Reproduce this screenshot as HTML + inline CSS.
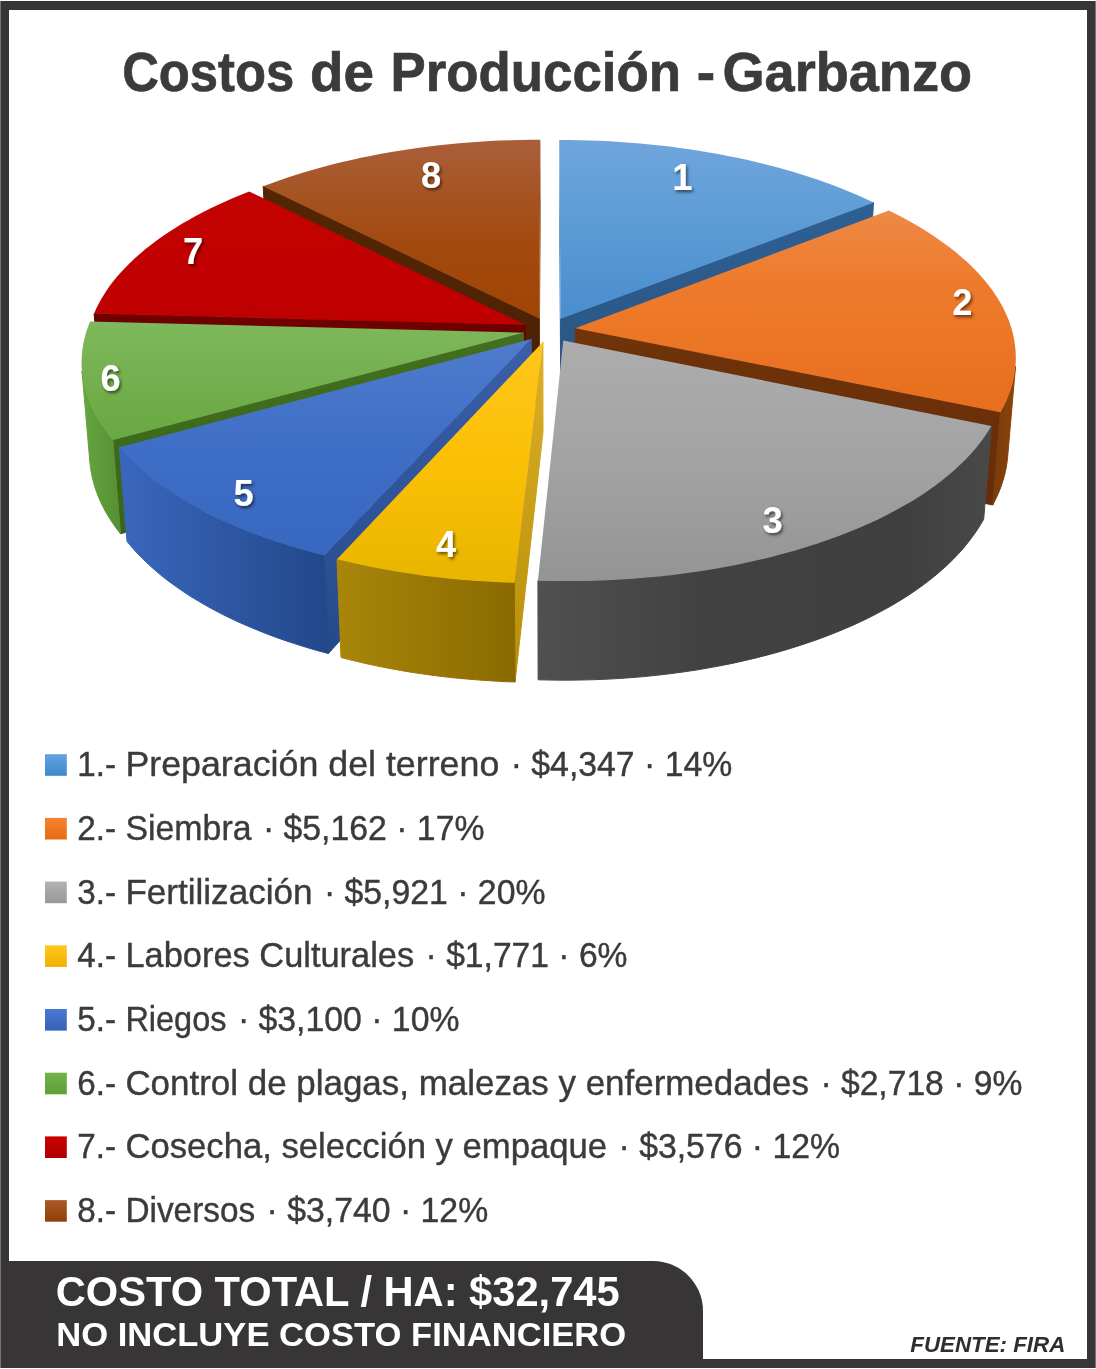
<!DOCTYPE html>
<html lang="es"><head><meta charset="utf-8"><title>Costos de Producción - Garbanzo</title>
<style>
html,body{margin:0;padding:0;background:#fff}
body{width:1096px;height:1369px;overflow:hidden;position:relative;font-family:"Liberation Sans",sans-serif}
svg{position:absolute;left:0;top:0;display:block}
text{font-family:"Liberation Sans",sans-serif}
.t{font-weight:bold}
</style></head><body>
<svg width="1096" height="1369" viewBox="0 0 1096 1369">
<defs>
<filter id="sh" x="-50%" y="-50%" width="200%" height="200%"><feDropShadow dx="1.6" dy="2.2" stdDeviation="1.6" flood-color="#000" flood-opacity="0.55"/></filter>
<linearGradient id="lg0" x1="0" y1="0" x2="0" y2="1"><stop offset="0" stop-color="#61a3e0"/><stop offset="1" stop-color="#3f88cd"/></linearGradient><linearGradient id="lg1" x1="0" y1="0" x2="0" y2="1"><stop offset="0" stop-color="#f6822f"/><stop offset="1" stop-color="#e76c12"/></linearGradient><linearGradient id="lg2" x1="0" y1="0" x2="0" y2="1"><stop offset="0" stop-color="#b2b2b2"/><stop offset="1" stop-color="#989898"/></linearGradient><linearGradient id="lg3" x1="0" y1="0" x2="0" y2="1"><stop offset="0" stop-color="#ffc820"/><stop offset="1" stop-color="#f0b000"/></linearGradient><linearGradient id="lg4" x1="0" y1="0" x2="0" y2="1"><stop offset="0" stop-color="#4a7ad0"/><stop offset="1" stop-color="#3462b8"/></linearGradient><linearGradient id="lg5" x1="0" y1="0" x2="0" y2="1"><stop offset="0" stop-color="#74b24c"/><stop offset="1" stop-color="#619e38"/></linearGradient><linearGradient id="lg6" x1="0" y1="0" x2="0" y2="1"><stop offset="0" stop-color="#cc0000"/><stop offset="1" stop-color="#b00000"/></linearGradient><linearGradient id="lg7" x1="0" y1="0" x2="0" y2="1"><stop offset="0" stop-color="#aa5a2a"/><stop offset="1" stop-color="#913e06"/></linearGradient>
</defs>
<rect x="0" y="0" width="1096" height="1369" fill="#fff"/>
<path fill-rule="evenodd" fill="#373536" d="M0,1H1096V1368H0Z M9,10H1087V1359H9Z"/>
<rect x="0" y="1" width="1" height="1367" fill="#777475"/><rect x="1095" y="1" width="1" height="1367" fill="#777475"/>
<path fill="#373536" d="M9,1261H653A50,50 0 0 1 703,1311V1360H9Z"/>
<text class="t" y="90.8" font-size="55.5" fill="#3b3a3c" stroke="#3b3a3c" stroke-width="0.7"><tspan x="122.2" textLength="172" lengthAdjust="spacingAndGlyphs">Costos</tspan> <tspan x="310" textLength="64" lengthAdjust="spacingAndGlyphs">de</tspan> <tspan x="390.5" textLength="290.5" lengthAdjust="spacingAndGlyphs">Producción</tspan> <tspan x="696.8" textLength="18.4" lengthAdjust="spacingAndGlyphs">-</tspan> <tspan x="722.5" textLength="249.5" lengthAdjust="spacingAndGlyphs">Garbanzo</tspan></text>
<g id="pie">
<defs><linearGradient id="sf7" x1="0" y1="0" x2="0" y2="1"><stop offset="0" stop-color="#552605"/><stop offset="1" stop-color="#4a2003"/></linearGradient><linearGradient id="t7" x1="0" y1="0" x2="0" y2="1"><stop offset="0" stop-color="#aa5f3a"/><stop offset="0.6" stop-color="#a2490d"/><stop offset="1" stop-color="#9f4506"/></linearGradient><linearGradient id="ef0" x1="0" y1="0" x2="0" y2="1"><stop offset="0" stop-color="#2f6093"/><stop offset="1" stop-color="#285380"/></linearGradient><linearGradient id="t0" x1="0" y1="0" x2="0" y2="1"><stop offset="0" stop-color="#70a5dc"/><stop offset="0.5" stop-color="#5b9bd5"/><stop offset="1" stop-color="#4a8dce"/></linearGradient><linearGradient id="sf6" x1="0" y1="0" x2="0" y2="1"><stop offset="0" stop-color="#700000"/><stop offset="1" stop-color="#640000"/></linearGradient><linearGradient id="t6" x1="0" y1="0" x2="0" y2="1"><stop offset="0" stop-color="#c40202"/><stop offset="1" stop-color="#bf0000"/></linearGradient><linearGradient id="ef1" x1="0" y1="0" x2="0" y2="1"><stop offset="0" stop-color="#70330a"/><stop offset="1" stop-color="#652d08"/></linearGradient><linearGradient id="w1" x1="0" y1="0" x2="1" y2="0"><stop offset="0" stop-color="#783a0c"/><stop offset="1" stop-color="#8c440b"/></linearGradient><linearGradient id="t1" x1="0" y1="0" x2="0" y2="1"><stop offset="0" stop-color="#ee8945"/><stop offset="0.35" stop-color="#ee7b2c"/><stop offset="1" stop-color="#e76f1e"/></linearGradient><linearGradient id="sf5" x1="0" y1="0" x2="0" y2="1"><stop offset="0" stop-color="#42701f"/><stop offset="1" stop-color="#3a6419"/></linearGradient><linearGradient id="w5" x1="0" y1="0" x2="1" y2="0"><stop offset="0" stop-color="#66a540"/><stop offset="1" stop-color="#568f33"/></linearGradient><linearGradient id="t5" x1="0" y1="0" x2="0" y2="1"><stop offset="0" stop-color="#7eb85c"/><stop offset="1" stop-color="#69a841"/></linearGradient><linearGradient id="sf4" x1="0" y1="0" x2="0" y2="1"><stop offset="0" stop-color="#3b5fa8"/><stop offset="1" stop-color="#244a8c"/></linearGradient><linearGradient id="w4" x1="0" y1="0" x2="1" y2="0"><stop offset="0" stop-color="#3a67bd"/><stop offset="1" stop-color="#22488a"/></linearGradient><linearGradient id="t4" x1="0" y1="0" x2="0" y2="1"><stop offset="0" stop-color="#4f7ccc"/><stop offset="0.5" stop-color="#3f6ec6"/><stop offset="1" stop-color="#3867c0"/></linearGradient><linearGradient id="w2" x1="0" y1="0" x2="1" y2="0"><stop offset="0" stop-color="#505050"/><stop offset="0.35" stop-color="#424242"/><stop offset="0.8" stop-color="#3f3f3f"/><stop offset="1" stop-color="#494949"/></linearGradient><linearGradient id="t2" x1="0" y1="0" x2="0" y2="1"><stop offset="0" stop-color="#adadad"/><stop offset="0.5" stop-color="#a3a3a3"/><stop offset="1" stop-color="#949494"/></linearGradient><linearGradient id="sf3" x1="0" y1="0" x2="0" y2="1"><stop offset="0" stop-color="#ddb028"/><stop offset="1" stop-color="#b58e08"/></linearGradient><linearGradient id="w3" x1="0" y1="0" x2="1" y2="0"><stop offset="0" stop-color="#a9860a"/><stop offset="1" stop-color="#8a6a00"/></linearGradient><linearGradient id="t3" x1="0" y1="0" x2="0" y2="1"><stop offset="0" stop-color="#ffc61c"/><stop offset="0.5" stop-color="#fbc005"/><stop offset="1" stop-color="#e9b500"/></linearGradient></defs>
<g stroke-width="1" stroke-linejoin="round"><path d="M539.3,318.5 L263.2,186.3 L267.5,269.8 L539.4,407.6Z" fill="url(#sf7)" stroke="url(#sf7)"/><path d="M539.3,318.5 L540.4,139.7 L540.6,221.2 L539.4,407.6Z" fill="#6b2f06" stroke="none"/><path d="M539.3,318.5 L263.2,186.3 L271.5,183.2 L279.9,180.2 L288.4,177.3 L297.1,174.5 L305.9,171.8 L314.8,169.2 L323.8,166.7 L333.0,164.3 L342.2,162.1 L351.5,159.9 L360.9,157.8 L370.4,155.9 L380.0,154.1 L389.7,152.3 L399.4,150.7 L409.2,149.2 L419.1,147.8 L429.0,146.5 L439.0,145.3 L449.0,144.3 L459.0,143.3 L469.1,142.5 L479.3,141.7 L489.4,141.1 L499.6,140.6 L509.8,140.2 L520.0,139.9 L530.2,139.8 L540.4,139.7Z" fill="url(#t7)"/></g>
<g stroke-width="1" stroke-linejoin="round"><path d="M560.6,318.8 L559.2,140.0 L559.1,221.4 L560.4,407.9Z" fill="#3d78b8" stroke="none"/><path d="M560.6,318.8 L873.5,202.5 L868.6,286.8 L560.4,407.9Z" fill="url(#ef0)" stroke="url(#ef0)"/><path d="M560.6,318.8 L559.2,140.0 L569.4,140.0 L579.5,140.2 L589.6,140.4 L599.8,140.8 L609.8,141.3 L619.9,141.9 L630.0,142.7 L640.0,143.5 L650.0,144.4 L659.9,145.5 L669.8,146.6 L679.6,147.9 L689.4,149.3 L699.1,150.8 L708.8,152.4 L718.4,154.1 L727.9,155.9 L737.3,157.8 L746.7,159.8 L756.0,161.9 L765.1,164.2 L774.2,166.5 L783.2,169.0 L792.0,171.5 L800.8,174.2 L809.4,176.9 L817.9,179.8 L826.3,182.7 L834.5,185.8 L842.6,188.9 L850.6,192.2 L858.4,195.5 L866.0,199.0 L873.5,202.5Z" fill="url(#t0)"/></g>
<g stroke-width="1" stroke-linejoin="round"><path d="M525.2,324.8 L94.1,313.6 L101.5,402.5 L525.6,414.2Z" fill="url(#sf6)" stroke="url(#sf6)"/><path d="M525.2,324.8 L94.1,313.6 L96.4,308.3 L99.1,303.0 L102.0,297.8 L105.2,292.7 L108.6,287.6 L112.3,282.6 L116.3,277.6 L120.5,272.8 L125.0,267.9 L129.7,263.2 L134.6,258.5 L139.8,253.9 L145.2,249.3 L150.8,244.9 L156.6,240.5 L162.6,236.2 L168.9,232.0 L175.3,227.9 L181.9,223.8 L188.7,219.9 L195.7,216.0 L202.9,212.2 L210.2,208.5 L217.7,205.0 L225.4,201.5 L233.2,198.1 L241.2,194.8 L249.3,191.6Z" fill="url(#t6)"/></g>
<g stroke-width="1" stroke-linejoin="round"><path d="M575.3,328.2 L1000.5,412.2 L992.7,505.0 L574.9,417.8Z" fill="url(#ef1)" stroke="url(#ef1)"/><path d="M1015.5,366.3 L1014.8,372.0 L1013.8,377.8 L1012.4,383.5 L1010.8,389.3 L1008.7,395.0 L1006.3,400.8 L1003.6,406.5 L1000.5,412.2 L992.7,505.0 L995.7,499.1 L998.4,493.2 L1000.8,487.2 L1002.8,481.2 L1004.5,475.3 L1005.9,469.3 L1006.9,463.3 L1007.6,457.3Z" fill="url(#w1)" stroke="url(#w1)"/><path d="M575.3,328.2 L888.9,210.6 L896.4,214.3 L903.7,218.1 L910.8,222.0 L917.8,226.0 L924.5,230.1 L931.1,234.2 L937.4,238.5 L943.6,242.9 L949.5,247.3 L955.3,251.8 L960.7,256.4 L966.0,261.1 L971.1,265.8 L975.8,270.6 L980.4,275.5 L984.7,280.5 L988.7,285.5 L992.5,290.6 L996.0,295.8 L999.3,301.0 L1002.3,306.2 L1004.9,311.5 L1007.4,316.9 L1009.5,322.3 L1011.3,327.8 L1012.8,333.3 L1014.0,338.8 L1014.9,344.4 L1015.5,350.0 L1015.8,355.6 L1015.8,361.2 L1015.4,366.9 L1014.7,372.5 L1013.7,378.2 L1012.3,383.9 L1010.7,389.6 L1008.6,395.3 L1006.3,400.9 L1003.6,406.6 L1000.5,412.2Z" fill="url(#t1)"/></g>
<g stroke-width="1" stroke-linejoin="round"><path d="M523.4,332.7 L112.8,439.9 L120.5,533.8 L523.8,422.4Z" fill="url(#sf5)" stroke="url(#sf5)"/><path d="M112.8,439.9 L108.3,434.3 L104.2,428.6 L100.4,423.0 L96.9,417.3 L93.9,411.5 L91.1,405.8 L88.7,400.0 L86.7,394.2 L85.0,388.5 L83.6,382.7 L82.6,376.9 L82.0,371.1 L89.9,462.4 L90.6,468.4 L91.6,474.4 L93.0,480.4 L94.7,486.4 L96.7,492.4 L99.1,498.4 L101.8,504.4 L104.8,510.3 L108.2,516.2 L112.0,522.1 L116.1,528.0 L120.5,533.8Z" fill="url(#w5)" stroke="url(#w5)"/><path d="M523.4,332.7 L112.8,439.9 L108.4,434.3 L104.3,428.8 L100.5,423.1 L97.1,417.5 L94.0,411.8 L91.3,406.1 L88.9,400.4 L86.8,394.7 L85.1,388.9 L83.8,383.2 L82.7,377.5 L82.0,371.8 L81.6,366.1 L81.6,360.4 L81.9,354.7 L82.5,349.1 L83.4,343.5 L84.6,337.9 L86.1,332.3 L88.0,326.8 L90.1,321.4Z" fill="url(#t5)"/></g>
<g stroke-width="1" stroke-linejoin="round"><path d="M531.2,339.1 L324.1,555.4 L328.4,653.5 L531.5,429.1Z" fill="url(#sf4)" stroke="url(#sf4)"/><path d="M324.1,555.4 L312.4,552.3 L300.9,549.1 L289.6,545.8 L278.5,542.3 L267.7,538.6 L257.2,534.8 L246.9,530.8 L236.9,526.8 L227.2,522.6 L217.8,518.2 L208.6,513.8 L199.8,509.2 L191.3,504.5 L183.1,499.7 L175.2,494.8 L167.7,489.8 L160.5,484.8 L153.6,479.6 L147.0,474.4 L140.8,469.1 L134.9,463.7 L129.4,458.3 L124.2,452.8 L119.4,447.2 L127.0,541.4 L131.8,547.2 L136.9,552.9 L142.4,558.5 L148.2,564.1 L154.3,569.6 L160.7,575.0 L167.5,580.4 L174.6,585.6 L182.1,590.8 L189.8,595.9 L197.9,600.8 L206.3,605.7 L214.9,610.4 L223.9,615.1 L233.2,619.6 L242.7,623.9 L252.6,628.1 L262.6,632.2 L273.0,636.2 L283.6,640.0 L294.5,643.6 L305.5,647.1 L316.8,650.4 L328.4,653.5Z" fill="url(#w4)" stroke="url(#w4)"/><path d="M531.2,339.1 L324.1,555.4 L312.4,552.3 L300.9,549.1 L289.6,545.8 L278.5,542.3 L267.7,538.6 L257.2,534.8 L246.9,530.8 L236.9,526.8 L227.2,522.6 L217.8,518.2 L208.6,513.8 L199.8,509.2 L191.3,504.5 L183.1,499.7 L175.2,494.8 L167.7,489.8 L160.5,484.8 L153.6,479.6 L147.0,474.4 L140.8,469.1 L134.9,463.7 L129.4,458.3 L124.2,452.8 L119.4,447.2Z" fill="url(#t4)"/></g>
<g stroke-width="1" stroke-linejoin="round"><path d="M991.4,425.9 L988.0,431.5 L984.2,437.2 L980.1,442.8 L975.6,448.4 L970.8,453.9 L965.6,459.4 L960.1,464.8 L954.3,470.2 L948.1,475.5 L941.6,480.8 L934.8,485.9 L927.6,491.0 L920.1,496.0 L912.2,500.9 L904.1,505.6 L895.6,510.3 L886.8,514.9 L877.8,519.4 L868.4,523.7 L858.7,528.0 L848.8,532.1 L838.6,536.0 L828.1,539.8 L817.3,543.5 L806.3,547.0 L795.1,550.4 L783.7,553.6 L772.0,556.7 L760.1,559.6 L748.0,562.3 L735.7,564.9 L723.3,567.2 L710.7,569.4 L697.9,571.4 L685.0,573.3 L672.0,574.9 L658.8,576.4 L645.6,577.6 L632.3,578.7 L618.9,579.6 L605.5,580.3 L592.0,580.8 L578.5,581.0 L564.9,581.1 L551.4,581.0 L537.9,580.7 L538.1,679.8 L551.3,680.1 L564.6,680.2 L577.9,680.1 L591.2,679.8 L604.4,679.3 L617.6,678.6 L630.7,677.7 L643.8,676.6 L656.8,675.3 L669.6,673.8 L682.4,672.1 L695.1,670.2 L707.6,668.1 L720.0,665.8 L732.2,663.4 L744.2,660.7 L756.1,657.9 L767.8,654.9 L779.2,651.8 L790.5,648.4 L801.5,644.9 L812.3,641.3 L822.9,637.5 L833.2,633.5 L843.2,629.4 L853.0,625.2 L862.5,620.8 L871.7,616.3 L880.6,611.6 L889.2,606.9 L897.6,602.0 L905.6,597.1 L913.3,592.0 L920.7,586.8 L927.7,581.6 L934.5,576.2 L940.9,570.8 L947.0,565.3 L952.8,559.7 L958.2,554.1 L963.3,548.4 L968.0,542.6 L972.4,536.8 L976.5,531.0 L980.3,525.1 L983.7,519.2Z" fill="url(#w2)" stroke="url(#w2)"/><path d="M563.3,340.5 L991.4,425.9 L988.0,431.5 L984.2,437.2 L980.1,442.8 L975.6,448.4 L970.8,453.9 L965.6,459.4 L960.1,464.8 L954.3,470.2 L948.1,475.5 L941.6,480.8 L934.8,485.9 L927.6,491.0 L920.1,496.0 L912.2,500.9 L904.1,505.6 L895.6,510.3 L886.8,514.9 L877.8,519.4 L868.4,523.7 L858.7,528.0 L848.8,532.1 L838.6,536.0 L828.1,539.8 L817.3,543.5 L806.3,547.0 L795.1,550.4 L783.7,553.6 L772.0,556.7 L760.1,559.6 L748.0,562.3 L735.7,564.9 L723.3,567.2 L710.7,569.4 L697.9,571.4 L685.0,573.3 L672.0,574.9 L658.8,576.4 L645.6,577.6 L632.3,578.7 L618.9,579.6 L605.5,580.3 L592.0,580.8 L578.5,581.0 L564.9,581.1 L551.4,581.0 L537.9,580.7Z" fill="url(#t2)"/></g>
<g stroke-width="1" stroke-linejoin="round"><path d="M542.9,342.1 L514.3,582.8 L515.0,682.0 L543.0,432.2Z" fill="url(#sf3)" stroke="url(#sf3)"/><path d="M514.3,582.8 L501.0,582.3 L487.8,581.6 L474.6,580.8 L461.5,579.7 L448.5,578.5 L435.6,577.0 L422.8,575.4 L410.0,573.6 L397.5,571.7 L385.0,569.5 L372.8,567.2 L360.7,564.7 L348.7,562.0 L337.0,559.2 L341.0,657.5 L352.5,660.4 L364.2,663.2 L376.1,665.8 L388.2,668.2 L400.4,670.4 L412.7,672.5 L425.2,674.3 L437.7,676.0 L450.4,677.5 L463.2,678.7 L476.1,679.8 L489.0,680.7 L502.0,681.5 L515.0,682.0Z" fill="url(#w3)" stroke="url(#w3)"/><path d="M542.9,342.1 L514.3,582.8 L501.0,582.3 L487.8,581.6 L474.6,580.8 L461.5,579.7 L448.5,578.5 L435.6,577.0 L422.8,575.4 L410.0,573.6 L397.5,571.7 L385.0,569.5 L372.8,567.2 L360.7,564.7 L348.7,562.0 L337.0,559.2Z" fill="url(#t3)"/></g>
</g>
<g class="t" font-size="36.3" font-weight="bold" fill="#fff" filter="url(#sh)"><text x="682.3" y="190" text-anchor="middle">1</text><text x="962.3" y="314.5" text-anchor="middle">2</text><text x="772.7" y="533.2" text-anchor="middle">3</text><text x="446.1" y="556.8" text-anchor="middle">4</text><text x="243.6" y="506.3" text-anchor="middle">5</text><text x="110.5" y="390.5" text-anchor="middle">6</text><text x="193.2" y="264.2" text-anchor="middle">7</text><text x="431.1" y="187.5" text-anchor="middle">8</text></g>
<g id="legend" stroke="#3b3a3c" stroke-width="0.4">
<rect stroke="none" x="45" y="754.2" width="21.8" height="21.6" fill="url(#lg0)"/><text y="776.2" font-size="35.2" fill="#3b3a3c"><tspan x="77.3" textLength="38.8" lengthAdjust="spacingAndGlyphs">1.-</tspan> <tspan x="125.4" textLength="373.9" lengthAdjust="spacingAndGlyphs">Preparación del terreno</tspan> <tspan x="510.7" textLength="221.6" lengthAdjust="spacingAndGlyphs">· $4,347 · 14%</tspan></text><rect stroke="none" x="45" y="817.9" width="21.8" height="21.6" fill="url(#lg1)"/><text y="839.9" font-size="35.2" fill="#3b3a3c"><tspan x="77.3" textLength="38.8" lengthAdjust="spacingAndGlyphs">2.-</tspan> <tspan x="125.4" textLength="126.1" lengthAdjust="spacingAndGlyphs">Siembra</tspan> <tspan x="262.9" textLength="221.6" lengthAdjust="spacingAndGlyphs">· $5,162 · 17%</tspan></text><rect stroke="none" x="45" y="881.6" width="21.8" height="21.6" fill="url(#lg2)"/><text y="903.6" font-size="35.2" fill="#3b3a3c"><tspan x="77.3" textLength="38.8" lengthAdjust="spacingAndGlyphs">3.-</tspan> <tspan x="125.4" textLength="187.1" lengthAdjust="spacingAndGlyphs">Fertilización</tspan> <tspan x="323.9" textLength="221.6" lengthAdjust="spacingAndGlyphs">· $5,921 · 20%</tspan></text><rect stroke="none" x="45" y="945.3" width="21.8" height="21.6" fill="url(#lg3)"/><text y="967.3" font-size="35.2" fill="#3b3a3c"><tspan x="77.3" textLength="38.8" lengthAdjust="spacingAndGlyphs">4.-</tspan> <tspan x="125.4" textLength="288.8" lengthAdjust="spacingAndGlyphs">Labores Culturales</tspan> <tspan x="425.6" textLength="201.9" lengthAdjust="spacingAndGlyphs">· $1,771 · 6%</tspan></text><rect stroke="none" x="45" y="1009.0" width="21.8" height="21.6" fill="url(#lg4)"/><text y="1031.0" font-size="35.2" fill="#3b3a3c"><tspan x="77.3" textLength="38.8" lengthAdjust="spacingAndGlyphs">5.-</tspan> <tspan x="125.4" textLength="101.1" lengthAdjust="spacingAndGlyphs">Riegos</tspan> <tspan x="237.9" textLength="221.6" lengthAdjust="spacingAndGlyphs">· $3,100 · 10%</tspan></text><rect stroke="none" x="45" y="1072.7" width="21.8" height="21.6" fill="url(#lg5)"/><text y="1094.7" font-size="35.2" fill="#3b3a3c"><tspan x="77.3" textLength="38.8" lengthAdjust="spacingAndGlyphs">6.-</tspan> <tspan x="125.4" textLength="683.6" lengthAdjust="spacingAndGlyphs">Control de plagas, malezas y enfermedades</tspan> <tspan x="820.4" textLength="201.9" lengthAdjust="spacingAndGlyphs">· $2,718 · 9%</tspan></text><rect stroke="none" x="45" y="1136.4" width="21.8" height="21.6" fill="url(#lg6)"/><text y="1158.4" font-size="35.2" fill="#3b3a3c"><tspan x="77.3" textLength="38.8" lengthAdjust="spacingAndGlyphs">7.-</tspan> <tspan x="125.4" textLength="481.7" lengthAdjust="spacingAndGlyphs">Cosecha, selección y empaque</tspan> <tspan x="618.5" textLength="221.6" lengthAdjust="spacingAndGlyphs">· $3,576 · 12%</tspan></text><rect stroke="none" x="45" y="1200.1" width="21.8" height="21.6" fill="url(#lg7)"/><text y="1222.1" font-size="35.2" fill="#3b3a3c"><tspan x="77.3" textLength="38.8" lengthAdjust="spacingAndGlyphs">8.-</tspan> <tspan x="125.4" textLength="129.8" lengthAdjust="spacingAndGlyphs">Diversos</tspan> <tspan x="266.6" textLength="221.6" lengthAdjust="spacingAndGlyphs">· $3,740 · 12%</tspan></text>
</g>
 <text class="t" x="55.7" y="1305.5" font-size="42.5" fill="#fff" textLength="564" lengthAdjust="spacingAndGlyphs">COSTO TOTAL / HA: $32,745</text>
<text class="t" x="56.2" y="1345.7" font-size="33.5" fill="#fff" textLength="570" lengthAdjust="spacingAndGlyphs">NO INCLUYE COSTO FINANCIERO</text>
<text class="t" x="910.3" y="1352.4" font-size="22.6" font-style="italic" fill="#2f2d2e" textLength="155" lengthAdjust="spacingAndGlyphs">FUENTE: FIRA</text>
</svg>
</body></html>
